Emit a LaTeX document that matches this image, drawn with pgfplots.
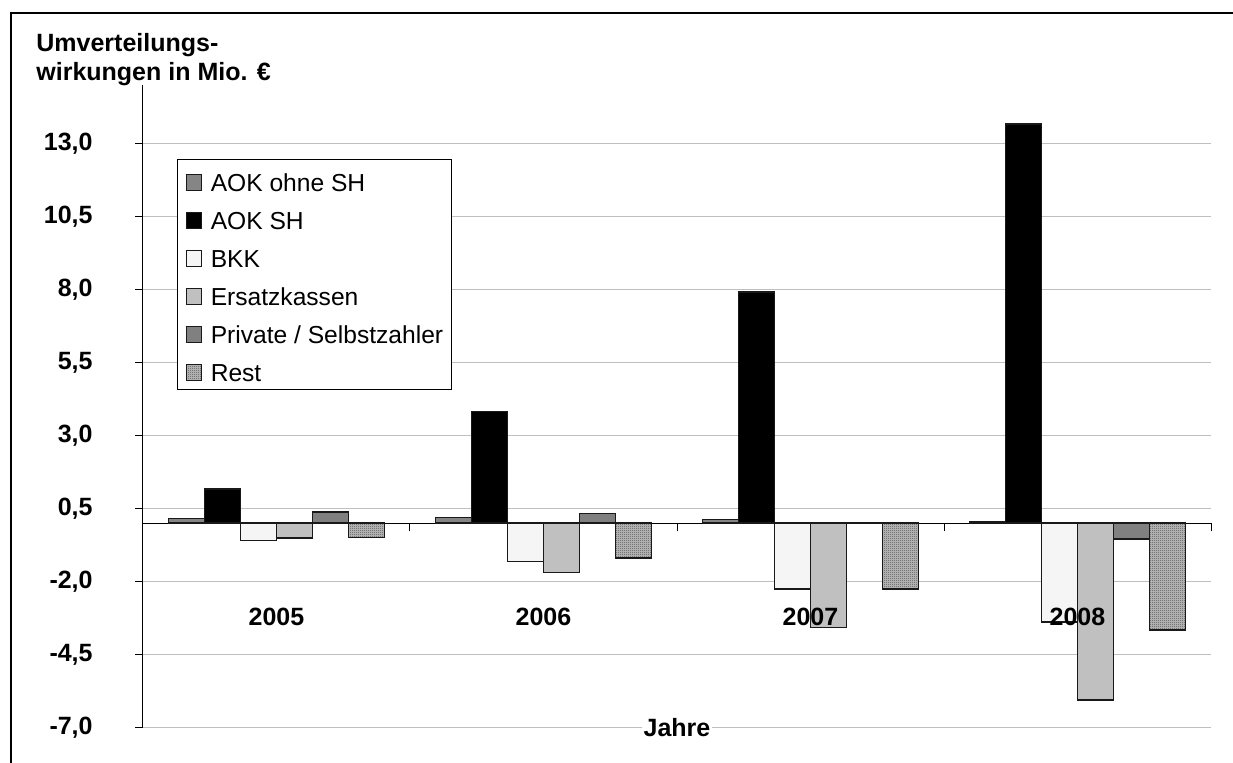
\documentclass[border=0pt]{standalone}
\usepackage{pgfplots}
\pgfplotsset{compat=1.18}
\usepackage{fontspec}
\setmainfont{Liberation Sans}
\usetikzlibrary{patterns}

% fine checkerboard like the original "Rest" fill
\pgfdeclarepatternformonly{finecheck}{\pgfpointorigin}{\pgfqpoint{1pt}{1pt}}{\pgfqpoint{1pt}{1pt}}{%
  \pgfpathrectangle{\pgfpointorigin}{\pgfqpoint{0.5pt}{0.5pt}}%
  \pgfpathrectangle{\pgfqpoint{0.5pt}{0.5pt}}{\pgfqpoint{0.5pt}{0.5pt}}%
  \pgfusepath{fill}}

\definecolor{aokohne}{HTML}{858585}
\definecolor{bkk}{HTML}{F5F5F5}
\definecolor{ersatz}{HTML}{C0C0C0}
\definecolor{privat}{HTML}{808080}

\pgfplotsset{
  /pgfplots/ybar legend/.style={
    /pgfplots/legend image code/.code={%
      \draw[##1,/tikz/.cd,line width=0.5pt] (0pt,-5.3pt) rectangle (7.8pt,2.5pt);}},
}

\newcommand{\bigfont}{\bfseries\fontsize{12.5}{15}\selectfont}

\begin{document}
\begin{tikzpicture}
\useasboundingbox (0,0) rectangle (616.5pt,-381.5pt);
\draw[line width=1pt] (5.5pt,-400pt) -- (5.5pt,-6.35pt) -- (640pt,-6.35pt);
\node[anchor=base west, inner sep=0pt, font=\bigfont] at (18pt,-26pt) {Umverteilungs-};
\node[anchor=base west, inner sep=0pt, font=\bigfont] at (18pt,-40.3pt) {wirkungen in Mio. €};
\begin{axis}[
  at={(71.5pt,-363.85pt)}, anchor=south west,
  scale only axis, width=534pt, height=321.25pt,
  ybar=0pt, bar width=18pt,
  xmin=-0.5, xmax=3.5, ymin=-7, ymax=15,
  clip=false,
  axis x line=middle, axis y line=left,
  axis line style={-, black, line width=0.5pt},
  hide obscured x ticks=false,
  xtick={0,1,2,3}, xticklabels={},
  minor xtick={-0.5,0.5,1.5,2.5,3.5},
  major x tick style={draw=none},
  minor x tick style={black, line width=0.5pt},
  ytick={-7,-4.5,-2,0.5,3,5.5,8,10.5,13},
  tick align=outside,
  major tick length=4pt, minor tick length=4pt,
  y tick style={black, line width=0.5pt},
  ymajorgrids, major grid style={gray!50, line width=0.6pt},
  /pgf/number format/assume math mode=true,
  yticklabel style={font=\bigfont, inner sep=0pt,
    /pgf/number format/.cd, fixed, fixed zerofill, precision=1, use comma},
  yticklabel shift=21pt,
  xlabel={Jahre},
  xlabel style={at={(axis description cs:0.5,0)}, anchor=center,
    fill=white, inner sep=1pt, font=\bigfont},
  every axis plot/.append style={draw=black!90, line width=0.8pt},
  legend cell align=left,
  legend style={at={(0.0316,0.8847)}, anchor=north west,
    draw=black, line width=0.5pt,
    font=\fontsize{12.3}{14}\selectfont,
    nodes={inner sep=0pt, text height=15.3pt, text depth=3.7pt},
    inner xsep=4.15pt, inner ysep=0.5pt, row sep=0pt, column sep=4.3pt},
]
\addplot[fill=aokohne] coordinates {(0,0.16) (1,0.20) (2,0.13) (3,0.06)};
\addplot[fill=black] coordinates {(0,1.17) (1,3.83) (2,7.92) (3,13.68)};
\addplot[fill=bkk] coordinates {(0,-0.59) (1,-1.31) (2,-2.25) (3,-3.38)};
\addplot[fill=ersatz] coordinates {(0,-0.50) (1,-1.68) (2,-3.57) (3,-6.05)};
\addplot[fill=privat] coordinates {(0,0.39) (1,0.33) (2,0.0) (3,-0.54)};
\addplot[fill=black!25, postaction={pattern=finecheck, pattern color=black!70}]
  coordinates {(0,-0.49) (1,-1.19) (2,-2.25) (3,-3.65)};
\legend{AOK ohne SH, AOK SH, BKK, Ersatzkassen, Private / Selbstzahler, Rest}
% year labels sit on top of the bars, as in the original
\node[font=\bigfont] at (axis cs:0,-3.22) {2005};
\node[font=\bigfont] at (axis cs:1,-3.22) {2006};
\node[font=\bigfont] at (axis cs:2,-3.22) {2007};
\node[font=\bigfont] at (axis cs:3,-3.22) {2008};
\end{axis}
\end{tikzpicture}
\end{document}
